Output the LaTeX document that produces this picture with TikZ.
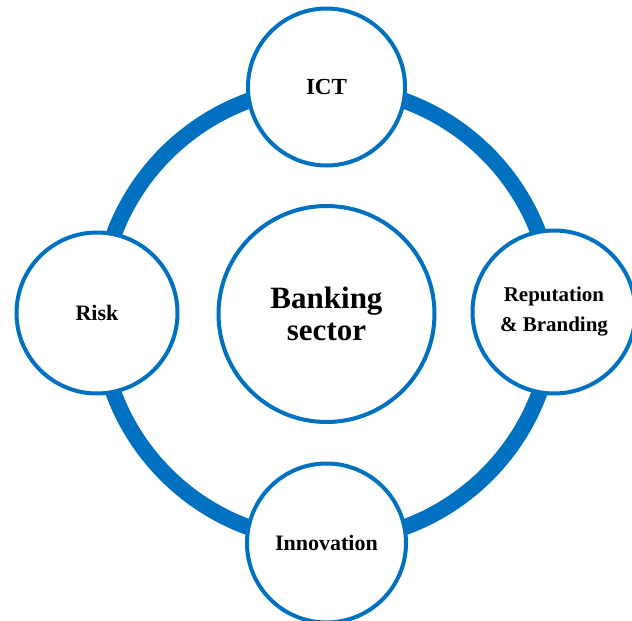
\documentclass[tikz,border=0pt]{standalone}
\usepackage{fontspec}
\setmainfont{Liberation Serif}
\usepackage{tikz}
\definecolor{ringblue}{RGB}{0,112,192}

\tikzset{
	bubble/.style={circle, draw=ringblue, line width=4pt, fill=white, inner sep=0pt, align=center, font=\bfseries\fontsize{22}{30}\selectfont},
}

\begin{document}
\begin{tikzpicture}[x=1pt, y=-1pt]
	\useasboundingbox (0,0) rectangle (632,621);

	% Centre
	\coordinate (c) at (326.5,314);

	% Ring
	\draw[ringblue, line width=16pt] (c) circle (227);

	% Nodes
	\node[bubble, minimum size=216pt, font=\bfseries\fontsize{31}{32}\selectfont] (sector) at (c) {Banking\\sector};
	\node[bubble, minimum size=157pt, font=\bfseries\fontsize{23}{28}\selectfont] (ict) at (326.5,87) {ICT};
	\node[bubble, minimum size=161pt] (risk) at (97,313) {Risk};
	\node[bubble, minimum size=163pt, font=\bfseries\fontsize{21}{30}\selectfont] (brand) at (554,312) {Reputation\\\& Branding};
	\node[bubble, minimum size=159pt] (innov) at (326.5,543) {Innovation};
\end{tikzpicture}
\end{document}
